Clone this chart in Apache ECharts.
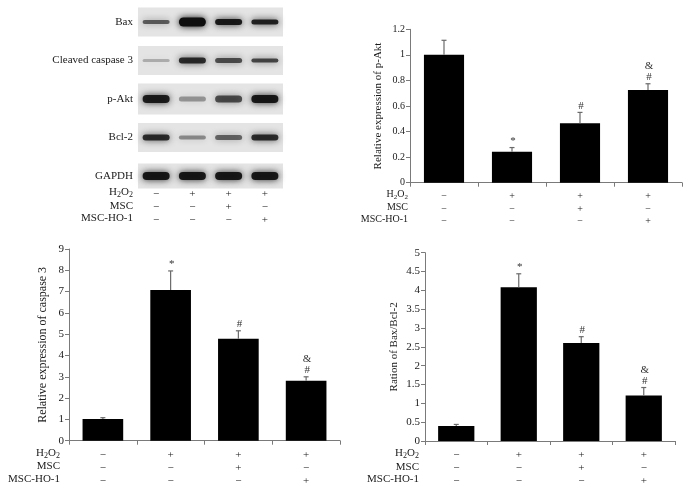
<!DOCTYPE html>
<html><head><meta charset="utf-8">
<script src="https://cdn.jsdelivr.net/npm/echarts@6/dist/echarts.min.js"></script>
<style>html,body{margin:0;padding:0;background:#fff}#c{width:689px;height:492px}</style>
</head><body><div id="c"></div>
<script>
// ---- data ----
const groups = ['Control', 'H2O2', 'H2O2+MSC', 'H2O2+MSC-HO-1'];
const h2o2Row = ['−', '+', '+', '+'];
const mscRow = ['−', '−', '+', '−'];
const ho1Row = ['−', '−', '−', '+'];
const rowNames = ['H2O2', 'MSC', 'MSC-HO-1'];

const proteins = ['Bax', 'Cleaved caspase 3', 'p-Akt', 'Bcl-2', 'GAPDH'];
const baxBand = [0.6, 1.0, 0.92, 0.88];
const cleavedBand = [0.25, 0.82, 0.66, 0.7];
const pAktBand = [0.9, 0.35, 0.66, 0.93];
const bcl2Band = [0.82, 0.4, 0.56, 0.82];
const gapdhBand = [0.93, 0.93, 0.93, 0.93];
const baxThick = [4, 9, 6, 5];
const cleavedThick = [3, 6, 5, 4];
const pAktThick = [8, 5, 7, 8];
const bcl2Thick = [6, 4, 5, 6];
const gapdhThick = [8, 8, 8, 8];

const pAktVal = [1.0, 0.243, 0.466, 0.725];
const pAktErr = [1.114, 0.275, 0.55, 0.774];
const pAktMark = ['', '*', '#', '&\n#'];

const casp3Val = [1.02, 7.07, 4.79, 2.82];
const casp3Err = [1.08, 7.97, 5.16, 3.0];
const casp3Mark = ['', '*', '#', '&\n#'];

const ratioVal = [0.4, 4.08, 2.6, 1.21];
const ratioErr = [0.44, 4.44, 2.77, 1.42];
const ratioMark = ['', '*', '#', '&\n#'];

const yTicksPAkt = {min: 0, max: 1.2, interval: 0.2};
const yTicksCasp = {min: 0, max: 9, interval: 1};
const yTicksRatio = {min: 0, max: 5, interval: 0.5};

// ---- build ----
const FONT = 'Liberation Serif';
const TXT = '#1a1a1a';
const AX = '#7a7a7a';

const bandRows = [baxBand, cleavedBand, pAktBand, bcl2Band, gapdhBand];
const thickRows = [baxThick, cleavedThick, pAktThick, bcl2Thick, gapdhThick];
const bandData = [];
bandRows.forEach((r, ri) => r.forEach((v, li) => bandData.push([li, ri, v, thickRows[ri][li]])));

function signLabel(v, i) { return h2o2Row[i] + '\n' + mscRow[i] + '\n' + ho1Row[i]; }

function barX(gi, margin, fs, lh) {
  return {
    type: 'category', gridIndex: gi, data: groups,
    axisLine: {lineStyle: {color: AX, width: 1}},
    axisTick: {show: true, length: 4, lineStyle: {color: AX}},
    axisLabel: {interval: 0, formatter: signLabel, margin: margin, fontFamily: FONT, fontSize: fs, lineHeight: lh, color: TXT}
  };
}
function barY(gi, t, name, gap, fs, nfs) {
  return {
    type: 'value', gridIndex: gi, min: t.min, max: t.max, interval: t.interval,
    name: name, nameLocation: 'middle', nameGap: gap,
    nameTextStyle: {fontFamily: FONT, fontSize: nfs, color: TXT},
    axisLine: {show: true, lineStyle: {color: AX}},
    axisTick: {show: true, length: 4, lineStyle: {color: AX}},
    splitLine: {show: false},
    axisLabel: {fontFamily: FONT, fontSize: fs, color: TXT, margin: 5}
  };
}
function errSeries(gi, vals, errs, marks) {
  return {
    type: 'custom', xAxisIndex: gi, yAxisIndex: gi, z: 5,
    data: vals.map((v, i) => [i, v, errs[i], marks[i]]),
    renderItem: function (params, api) {
      const i = api.value(0);
      const p0 = api.coord([i, api.value(1)]);
      const p1 = api.coord([i, api.value(2)]);
      const mark = marks[i];
      const ch = [
        {type: 'line', shape: {x1: p0[0], y1: p0[1], x2: p1[0], y2: p1[1]}, style: {stroke: '#6a6a6a', lineWidth: 1.2}},
        {type: 'line', shape: {x1: p1[0] - 2.5, y1: p1[1], x2: p1[0] + 2.5, y2: p1[1]}, style: {stroke: '#6a6a6a', lineWidth: 1.2}}
      ];
      if (mark) {
        ch.push({type: 'text', style: {text: mark, x: p1[0] + 1, y: p1[1] - 1, align: 'center', verticalAlign: 'bottom',
          font: '11px "' + FONT + '"', lineHeight: 11, fill: '#333'}});
      }
      return {type: 'group', children: ch};
    }
  };
}
function barSeries(gi, vals, w) {
  return {type: 'bar', xAxisIndex: gi, yAxisIndex: gi, data: vals, barWidth: w, itemStyle: {color: '#000'}, z: 3};
}

function rowLabelTexts(xRight, ys, fs) {
  return rowNames.map((n, k) => {
    let txt, rich = {a: {fontFamily: FONT, fontSize: fs, color: TXT}};
    if (n === 'H2O2') {
      txt = '{a|H}{s|2}{a|O}{s|2}';
      rich.s = {fontFamily: FONT, fontSize: fs - 3, color: TXT, padding: [fs * 0.45, 0, 0, 0]};
    } else txt = '{a|' + n + '}';
    return {type: 'text', right: 689 - xRight, top: ys[k] - fs * 0.65,
      style: {text: txt, rich: rich, font: fs + 'px "' + FONT + '"', fill: TXT}};
  });
}

const option = {
  animation: false,
  textStyle: {fontFamily: FONT},
  grid: [
    {left: 138, width: 145, top: 22, height: 154},
    {left: 410, right: 7, top: 29.3, bottom: 309.3},
    {left: 69, right: 349, top: 249, bottom: 51.3},
    {left: 425, right: 14, top: 252.7, bottom: 51}
  ],
  xAxis: [
    {type: 'category', gridIndex: 0, data: groups, axisLine: {show: false}, axisTick: {show: false},
      axisLabel: {interval: 0, formatter: signLabel, margin: 11.5, fontFamily: FONT, fontSize: 11, lineHeight: 13, color: TXT}},
    barX(1, 7.5, 10, 12.5),
    barX(2, 7.8, 11, 13),
    barX(3, 7.5, 11, 13)
  ],
  yAxis: [
    {type: 'category', gridIndex: 0, data: proteins, inverse: true, boundaryGap: false,
      axisLine: {show: false}, axisTick: {show: false},
      axisLabel: {fontFamily: FONT, fontSize: 11, color: TXT, margin: 5}},
    barY(1, yTicksPAkt, 'Relative expression of p-Akt', 26.5, 10, 11),
    barY(2, yTicksCasp, 'Relative expression of caspase 3', 20, 11, 12),
    barY(3, yTicksRatio, 'Ration of Bax/Bcl-2', 25.5, 11, 11)
  ],
  graphic: [].concat(
    rowLabelTexts(133, [194, 208, 220], 11),
    rowLabelTexts(408, [196, 209, 221], 10),
    rowLabelTexts(60, [455, 468, 481], 11),
    rowLabelTexts(419, [455, 469, 481], 11)
  ),
  series: [
    {
      type: 'custom', xAxisIndex: 0, yAxisIndex: 0, z: 1,
      data: proteins.map((p, i) => [0, i]),
      renderItem: function (params, api) {
        const row = api.value(1);
        const c0 = api.coord([0, row]);
        const c3 = api.coord([3, row]);
        const w = api.size([1, 0])[0];
        const h = row === 4 ? 25 : (row === 2 ? 31 : 29);
        return {type: 'rect', shape: {x: c0[0] - w / 2, y: c0[1] - h / 2, width: c3[0] - c0[0] + w, height: h},
          style: {fill: '#e4e4e4'}};
      }
    },
    {
      type: 'custom', xAxisIndex: 0, yAxisIndex: 0, z: 2,
      data: bandData,
      renderItem: function (params, api) {
        const c = api.coord([api.value(0), api.value(1)]);
        const a = api.value(2), t = api.value(3);
        const col = 'rgba(14,14,14,' + a + ')';
        return {type: 'rect', shape: {x: c[0] - 13.5, y: c[1] - t / 2, width: 27, height: t, r: t / 2},
          style: {fill: col, shadowBlur: 7, shadowColor: col}};
      }
    },
    barSeries(1, pAktVal, '59%'), errSeries(1, pAktVal, pAktErr, pAktMark),
    barSeries(2, casp3Val, '60%'), errSeries(2, casp3Val, casp3Err, casp3Mark),
    barSeries(3, ratioVal, '58%'), errSeries(3, ratioVal, ratioErr, ratioMark)
  ]
};
echarts.init(document.getElementById('c')).setOption(option);
</script></body></html>
